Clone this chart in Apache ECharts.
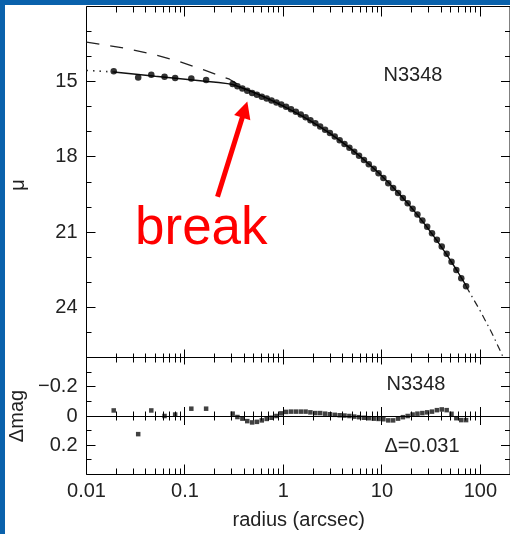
<!DOCTYPE html>
<html><head><meta charset="utf-8">
<script src="https://cdn.jsdelivr.net/npm/echarts@6/dist/echarts.min.js"></script>
<style>html,body{margin:0;padding:0;background:#fff}#chart{width:510px;height:534px}</style>
</head><body><div id="chart"></div>
<script>
// ---- data ----
const profileRadius = [0.0189,0.0335,0.0455,0.062,0.0795,0.116,0.164,
  0.305,0.341,0.383,0.429,0.481,0.538,0.603,0.676,0.757,0.849,0.951,1.064,1.194,1.337,1.5,1.679,1.879,2.109,2.36,2.649,2.965,3.319,3.724,4.169,4.677,5.236,5.861,6.577,7.362,8.26,9.247,10.35,11.61,13.0,14.59,16.33,18.28,20.51,22.96,25.76,28.84,32.28,36.22,40.55,45.5,50.93,57.02,63.97,71.61];
const profileMu = [14.58,14.83,14.72,14.80,14.85,14.87,14.93,
  15.09,15.18,15.27,15.36,15.45,15.52,15.60,15.67,15.75,15.83,15.91,16.00,16.10,16.20,16.31,16.42,16.54,16.66,16.79,16.92,17.05,17.19,17.33,17.48,17.63,17.79,17.95,18.12,18.29,18.47,18.65,18.84,19.05,19.24,19.44,19.64,19.85,20.07,20.30,20.54,20.78,21.04,21.30,21.57,21.86,22.18,22.51,22.84,23.16];
const residualDelta = [-0.038,0.124,-0.038,0.0,-0.01,-0.05,-0.05,
  -0.016,0.007,0.018,0.035,0.044,0.04,0.03,0.02,0.012,0.0,-0.018,-0.028,-0.03,-0.03,-0.03,-0.03,-0.025,-0.02,-0.02,-0.016,-0.012,-0.008,-0.005,-0.003,0.0,0.004,0.008,0.012,0.015,0.018,0.02,0.022,0.03,0.03,0.018,0.008,0.0,-0.01,-0.016,-0.02,-0.025,-0.03,-0.04,-0.045,-0.04,-0.015,0.015,0.028,0.028];

const modelRadius = [0.0189,0.03,0.05,0.08,0.12,0.17,0.22,0.27,0.305,0.383,0.481,0.603,0.757,0.951,1.194,1.5,1.879,2.36,2.965,3.724,4.677,5.861,7.362,9.247,11.61,14.59,18.28,22.96,28.84,36.22,45.5,57.02,71.61];
const modelMu = [14.61,14.69,14.78,14.86,14.93,14.99,15.03,15.075,15.11,15.25,15.40,15.565,15.74,15.93,16.13,16.34,16.56,16.805,17.06,17.34,17.63,17.94,18.28,18.63,19.015,19.42,19.85,20.31,20.81,21.34,21.90,22.49,23.135];

const coreInwardRadius = [0.01,0.0189];
const coreInwardMu = [14.55,14.61];

const sersicInwardRadius = [0.01,0.0253,0.0471,0.0879,0.158,0.283,0.36,0.43];
const sersicInwardMu = [13.42,13.67,13.90,14.20,14.54,14.90,15.15,15.33];

const sersicOutwardRadius = [71.61,100,130,160,200];
const sersicOutwardMu = [23.16,24.15,25.0,25.75,26.6];

const xTickValues = [0.01,0.02,0.03,0.04,0.05,0.06,0.07,0.08,0.09,
  0.1,0.2,0.3,0.4,0.5,0.6,0.7,0.8,0.9,1,2,3,4,5,6,7,8,9,
  10,20,30,40,50,60,70,80,90,100];
const xTickLabels = ['0.01','0.1','1','10','100'];
const muTicks = [13,14,15,16,17,18,19,20,21,22,23,24,25];
const muTickLabels = [15,18,21,24];
const dmagTicks = [-0.3,-0.2,-0.1,0.1,0.2,0.3];
const dmagTickLabels = [-0.2,0,0.2];

// ---- chart ----
const FONT = '"Liberation Sans", Arial, sans-serif';
const TXT = '#222';
const BLUE = '#0a62ac';
const zip = (a, b) => a.map((v, i) => [v, b[i]]);
const near = (a, b) => Math.abs(a - b) < 1e-6;
const isDecade = v => near(Math.log10(v), Math.round(Math.log10(v)));

const tickData0 = xTickValues.map(v => [v, 20, 0, isDecade(v) ? 1 : 0])
  .concat(muTicks.map(v => [0.01, v, 1, muTickLabels.includes(v) ? 1 : 0]));
const tickData1 = xTickValues.map(v => [v, 0, 0, isDecade(v) ? 1 : 0])
  .concat(dmagTicks.map(v => [0.01, v, 1, dmagTickLabels.some(l => near(l, v)) ? 1 : 0]));

const seg = (x1, y1, x2, y2) => ({type: 'line', shape: {x1, y1, x2, y2}, style: {stroke: '#000', lineWidth: 1}});
const crisp = v => Math.floor(v) + 0.5;

function ticksTop(params, api) {
  const cs = params.coordSys;
  const x0 = cs.x, x1 = cs.x + cs.width, y0 = cs.y, y1 = cs.y + cs.height;
  const kind = api.value(2), major = api.value(3) === 1;
  const p = api.coord([api.value(0), api.value(1)]);
  if (kind === 0) {
    const px = crisp(p[0]);
    return {type: 'group', children: [
      seg(px, y0, px, y0 + (major ? 10 : 6)),
      seg(px, y1, px, y1 - (major ? 8 : 4))
    ]};
  }
  const py = crisp(p[1]);
  const l = major ? 9 : 5;
  return {type: 'group', children: [seg(x0, py, x0 + l, py), seg(x1, py, x1 - l, py)]};
}
function ticksBottom(params, api) {
  const cs = params.coordSys;
  const x0 = cs.x, x1 = cs.x + cs.width, y0 = cs.y, y1 = cs.y + cs.height;
  const kind = api.value(2), major = api.value(3) === 1;
  const p = api.coord([api.value(0), api.value(1)]);
  if (kind === 0) {
    const px = crisp(p[0]);
    const pz = api.coord([api.value(0), 0])[1];
    const z = major ? 9 : 4.5;
    return {type: 'group', children: [
      seg(px, y0, px, y0 + (major ? 7 : 5)),
      seg(px, pz - z, px, pz + z),
      seg(px, y1, px, y1 - (major ? 10 : 6))
    ]};
  }
  const py = crisp(p[1]);
  const l = major ? 9 : 5;
  return {type: 'group', children: [seg(x0, py, x0 + l, py), seg(x1, py, x1 - l, py)]};
}

const labelStyle = {color: TXT, fontFamily: FONT, fontSize: 20};
const chart = echarts.init(document.getElementById('chart'), null, {renderer: 'canvas'});
chart.setOption({
  animation: false,
  backgroundColor: '#fff',
  grid: [
    {left: 86.5, top: 6.5, width: 424.4, height: 351, show: true, borderColor: '#000', borderWidth: 1, backgroundColor: 'transparent', containLabel: false},
    {left: 86.5, top: 357.5, width: 424.4, height: 117, show: true, borderColor: '#000', borderWidth: 1, backgroundColor: 'transparent', containLabel: false}
  ],
  xAxis: [
    {gridIndex: 0, type: 'log', logBase: 10, min: 0.01, max: 200,
     axisLine: {show: false}, axisTick: {show: false}, axisLabel: {show: false}, splitLine: {show: false}},
    {gridIndex: 1, type: 'log', logBase: 10, min: 0.01, max: 200,
     axisLine: {show: false}, axisTick: {show: false}, splitLine: {show: false},
     axisLabel: Object.assign({margin: 7, showMaxLabel: false, formatter: v => {
       const l = xTickLabels.find(s => near(Math.log10(parseFloat(s)), Math.log10(v)));
       return l || '';
     }}, labelStyle)}
  ],
  yAxis: [
    {gridIndex: 0, type: 'value', inverse: true, min: 12, max: 26, interval: 1,
     axisLine: {show: false}, axisTick: {show: false}, splitLine: {show: false},
     axisLabel: Object.assign({margin: 9, formatter: v => muTickLabels.some(l => near(l, v)) ? String(Math.round(v)) : ''}, labelStyle)},
    {gridIndex: 1, type: 'value', inverse: true, min: -0.4, max: 0.4, interval: 0.1,
     axisLine: {show: false}, axisTick: {show: false}, splitLine: {show: false},
     axisLabel: Object.assign({margin: 9, formatter: v => {
       const l = dmagTickLabels.find(t => near(t, v));
       if (l === undefined) return '';
       return l < 0 ? '\u2212' + Math.abs(l) : String(l);
     }}, labelStyle)}
  ],
  series: [
    {name: 'core inward', type: 'line', xAxisIndex: 0, yAxisIndex: 0, data: zip(coreInwardRadius, coreInwardMu),
     symbol: 'none', silent: true, lineStyle: {color: '#333', width: 1.6, type: [1.5, 5]}},
    {name: 'Sersic inward', type: 'line', xAxisIndex: 0, yAxisIndex: 0, data: zip(sersicInwardRadius, sersicInwardMu),
     symbol: 'none', silent: true, lineStyle: {color: '#222', width: 1.3, type: [13, 11]}},
    {name: 'model', type: 'line', xAxisIndex: 0, yAxisIndex: 0, data: zip(modelRadius, modelMu),
     symbol: 'none', silent: true, lineStyle: {color: '#111', width: 1.4}},
    {name: 'Sersic outward', type: 'line', xAxisIndex: 0, yAxisIndex: 0, data: zip(sersicOutwardRadius, sersicOutwardMu),
     symbol: 'none', silent: true, lineStyle: {color: '#222', width: 1.2, type: [7, 4, 1.5, 4]}},
    {name: 'profile', type: 'scatter', xAxisIndex: 0, yAxisIndex: 0, data: zip(profileRadius, profileMu),
     symbol: 'circle', symbolSize: 6.5, itemStyle: {color: '#000'}, z: 3,
     markLine: {silent: true, symbol: ['none', 'triangle'], symbolSize: 17, label: {show: false},
       lineStyle: {color: '#ff0000', width: 5, type: 'solid'},
       itemStyle: {color: '#ff0000'},
       data: [[{coord: [0.214, 19.59]}, {coord: [0.405, 16.11]}]]}},
    {name: 'residual', type: 'scatter', xAxisIndex: 1, yAxisIndex: 1, data: zip(profileRadius, residualDelta),
     symbol: 'rect', symbolSize: 4.5, itemStyle: {color: '#111'}, z: 3,
     markLine: {silent: true, symbol: ['none', 'none'], label: {show: false},
       lineStyle: {color: '#000', width: 1, type: 'solid'}, data: [{yAxis: 0}]}},
    {type: 'custom', xAxisIndex: 0, yAxisIndex: 0, renderItem: ticksTop, data: tickData0, silent: true, z: 4,
     dimensions: ['x', 'y', 'kind', 'major'], encode: {x: 0, y: 1}},
    {type: 'custom', xAxisIndex: 1, yAxisIndex: 1, renderItem: ticksBottom, data: tickData1, silent: true, z: 4,
     dimensions: ['x', 'y', 'kind', 'major'], encode: {x: 0, y: 1}}
  ],
  graphic: [
    {type: 'rect', shape: {x: 0, y: 0, width: 5, height: 534}, style: {fill: BLUE}, z: 100},
    {type: 'rect', shape: {x: 0, y: 0, width: 510, height: 5}, style: {fill: BLUE}, z: 100},
    {type: 'text', x: 413, y: 75, style: {text: 'N3348', font: '20px ' + FONT, fill: TXT, align: 'center', verticalAlign: 'middle'}},
    {type: 'text', x: 416, y: 384.5, style: {text: 'N3348', font: '20px ' + FONT, fill: TXT, align: 'center', verticalAlign: 'middle'}},
    {type: 'text', x: 422, y: 446, style: {text: '\u0394=0.031', font: '20px ' + FONT, fill: TXT, align: 'center', verticalAlign: 'middle'}},
    {type: 'text', x: 298.7, y: 520, style: {text: 'radius (arcsec)', font: '20px ' + FONT, fill: TXT, align: 'center', verticalAlign: 'middle'}},
    {type: 'text', x: 18, y: 185, rotation: Math.PI / 2, style: {text: '\u03bc', font: '20px ' + FONT, fill: TXT, align: 'center', verticalAlign: 'middle'}},
    {type: 'text', x: 17, y: 416, rotation: Math.PI / 2, style: {text: '\u0394mag', font: '20px ' + FONT, fill: TXT, align: 'center', verticalAlign: 'middle'}},
    {type: 'text', x: 135, y: 229, style: {text: 'break', font: '53px ' + FONT, fill: '#ff0000', align: 'left', verticalAlign: 'middle'}}
  ]
});
</script></body></html>
